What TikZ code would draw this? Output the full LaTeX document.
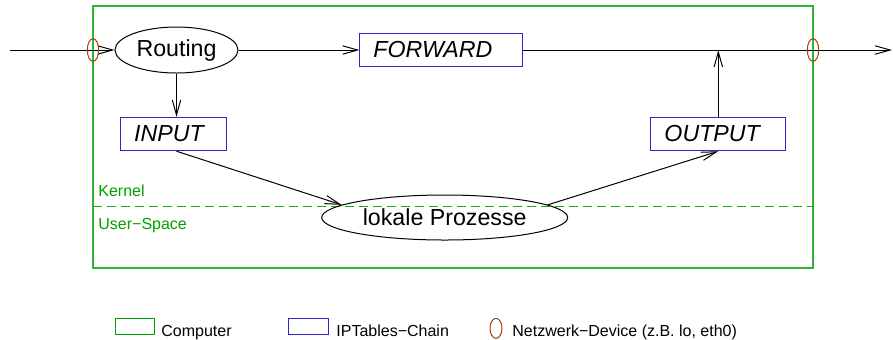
\documentclass[tikz,border=0pt]{standalone}
\usepackage{fontspec}
\setmainfont{Liberation Sans}
\usetikzlibrary{arrows.meta,shapes.geometric}
\definecolor{PcGreen}{HTML}{00A000}
\definecolor{ChainBlue}{HTML}{2828C8}
\definecolor{DevBrown}{HTML}{A04010}
\tikzset{
  pcframe/.style={draw=PcGreen!80,line width=0.7pt},
  kernelline/.style={draw=PcGreen!90,line width=0.5pt,dash pattern=on 4.5pt off 2.5pt},
  chainbox/.style={draw=ChainBlue,line width=0.5pt,rectangle,inner xsep=6.75pt,inner ysep=0pt,minimum height=16.7pt,align=left,font=\fontsize{11.6}{14}\selectfont\itshape},
  procnode/.style={draw,ellipse,line width=0.5pt,inner sep=0pt,font=\fontsize{11.6}{14}\selectfont},
  devnode/.style={draw=DevBrown,ellipse,line width=0.5pt,inner sep=0pt,minimum width=5.7pt,minimum height=11.3pt},
  pktarrow/.style={-{Straight Barb[length=7.5pt,width=4.2pt]},line width=0.5pt},
  zonetext/.style={text=PcGreen,inner sep=0pt,anchor=base west,font=\fontsize{8}{10}\selectfont},
  keytext/.style={inner sep=0pt,anchor=base west,font=\fontsize{8}{10}\selectfont}
}

\begin{document}
\begin{tikzpicture}[x=0.5pt,y=-0.5pt]
\useasboundingbox (0,0) rectangle (893,339);

% computer with kernel / user-space split
\draw[pcframe] (93,6) rectangle (813,268);
\draw[kernelline] (93,206.7) -- (813,206.7);
\node[zonetext] (kern) at (98,196) {Kernel};
\node[zonetext] (user) at (98,229.3) {User−Space};

% routing and chains
\node[procnode,minimum width=61.5pt,minimum height=23pt] (route) at (176.5,50) {Routing};
\node[chainbox,text width=67.85pt] (fwd) at (441.3,50) {FORWARD};
\node[chainbox,text width=39.5pt] (inp) at (173.7,134) {INPUT};
\node[chainbox,text width=53.85pt] (outp) at (718.3,134) {OUTPUT};
\node[procnode,minimum width=123pt,minimum height=22.5pt] (proc) at (444.7,217.5) {lokale Prozesse};

% wire in and out
\coordinate (wirein) at (10,50);
\coordinate (wireout) at (892,50);
\coordinate (join) at (718.3,50);
\draw[pktarrow] (wirein) -- (route.west);
\draw[pktarrow] (route.east) -- (fwd.west);
\draw[pktarrow] (fwd.east) -- (wireout);
\draw[pktarrow] (route.south) -- (route.south |- inp.north);
\draw[pktarrow] (inp.south -| route.south) -- (proc.173);
\draw[pktarrow] (proc.7) -- (outp.south);
\draw[pktarrow] (outp.north) -- (join);

% network devices
\node[devnode] (devin) at (93,50) {};
\node[devnode] (devout) at (813,50) {};

% legend
\node[draw=PcGreen,line width=0.5pt,minimum width=19.5pt,minimum height=8pt,inner sep=0pt] (keypc) at (134.5,326.3) {};
\node[keytext] (keypctext) at (161,336) {Computer};
\node[draw=ChainBlue,line width=0.5pt,minimum width=19.8pt,minimum height=8pt,inner sep=0pt] (keychain) at (308.2,326.3) {};
\node[keytext] (keychaintext) at (336,336) {IPTables−Chain};
\node[draw=DevBrown,ellipse,line width=0.5pt,minimum width=6pt,minimum height=10pt,inner sep=0pt] (keydev) at (496,328.3) {};
\node[keytext] (keydevtext) at (512,336) {Netzwerk−Device (z.B. lo, eth0)};
\end{tikzpicture}
\end{document}
